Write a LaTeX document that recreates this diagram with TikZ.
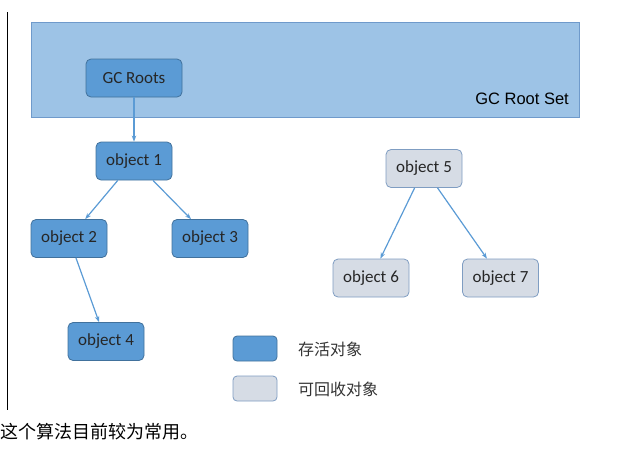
\documentclass[tikz,border=0pt]{standalone}
\usepackage{fontspec}
\setmainfont{Carlito}
\newfontfamily\arialfont{Liberation Sans}
\newfontfamily\cjk{Noto Sans CJK SC}
\usetikzlibrary{arrows.meta}
\definecolor{alivefill}{HTML}{5B9BD5}
\definecolor{livedraw}{HTML}{41719C}
\definecolor{deadfill}{HTML}{D6DCE5}
\definecolor{deaddraw}{HTML}{7F9DC2}
\definecolor{setfill}{HTML}{9DC3E6}
\definecolor{setdraw}{HTML}{6F9ACB}
\tikzset{
  alive/.style={draw=livedraw,fill=alivefill,rounded corners=5pt,line width=0.8pt,
    minimum width=76pt,minimum height=38pt,inner sep=0pt,font=\fontsize{17}{20}\selectfont,text=black!85},
  dead/.style={alive,draw=deaddraw,fill=deadfill},
  ref/.style={draw=alivefill,line width=1.2pt,-{Stealth[length=6pt,width=4.5pt]}},
  keybox/.style={rounded corners=4pt,line width=0.8pt,minimum width=44pt,minimum height=25pt,inner sep=0pt},
  keytext/.style={anchor=west,inner sep=0pt,font=\cjk\fontsize{16}{18}\selectfont,text=black!80}
}
\begin{document}
\begin{tikzpicture}[x=1pt,y=-1pt]
  \useasboundingbox (0,0) rectangle (626,456);
  \draw[line width=1pt] (7,12)--(7,410);
  % root set
  \draw[setdraw,fill=setfill,line width=0.8pt] (31,22) rectangle (579,117);
  \node[anchor=east,inner sep=0pt,font=\arialfont\fontsize{16.5}{19}\selectfont] (rootset) at (569,99) {GC Root Set};
  \node[alive,minimum width=96pt] (roots) at (134,78) {GC Roots};
  % reachable objects
  \node[alive] (obj1) at (134,161) {object 1};
  \node[alive] (obj2) at (69,238.5) {object 2};
  \node[alive] (obj3) at (210,238.5) {object 3};
  \node[alive] (obj4) at (106,341.5) {object 4};
  % unreachable objects
  \node[dead] (obj5) at (424,168.5) {object 5};
  \node[dead] (obj6) at (371,278) {object 6};
  \node[dead] (obj7) at (500.5,278) {object 7};
  \draw[ref] (roots) -- (obj1);
  \draw[ref] (obj1) -- (obj2);
  \draw[ref] (obj1) -- (obj3);
  \draw[ref] (obj2) -- (obj4);
  \draw[ref] (obj5) -- (obj6);
  \draw[ref] (obj5) -- (obj7);
  % legend
  \node[keybox,draw=livedraw,fill=alivefill] (keyalive) at (255,348.5) {};
  \node[keybox,draw=deaddraw,fill=deadfill] (keydead) at (255,388.5) {};
  \node[keytext] (alivelabel) at (298,349) {存活对象};
  \node[keytext] (deadlabel) at (298,389) {可回收对象};
  \node[anchor=west,inner sep=0pt,font=\cjk\fontsize{18}{20}\selectfont] (note) at (0,432) {这个算法目前较为常用。};
\end{tikzpicture}
\end{document}
